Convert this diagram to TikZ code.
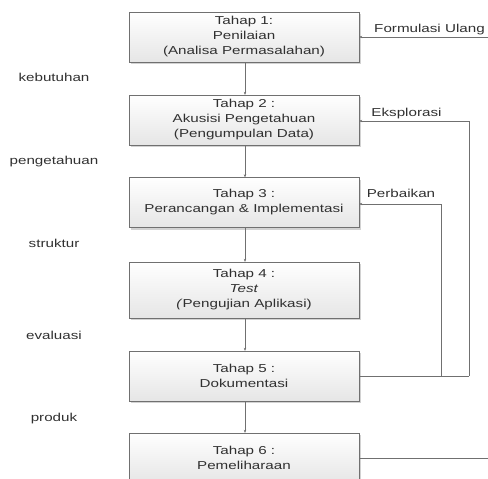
\documentclass[tikz,border=0pt]{standalone}
\usepackage{fontspec}
\setmainfont{Liberation Sans}[FakeStretch=1.32]
\usepackage{tikz}
\usetikzlibrary{arrows.meta, shadows}

\definecolor{linegray}{HTML}{707070}
\definecolor{textgray}{HTML}{303030}

\begin{document}
\begin{tikzpicture}[x=1pt,y=-1pt,
		tahap/.style={draw=linegray, top color=white, bottom color=gray!20,
			minimum width=230pt, minimum height=50pt, inner sep=0pt, align=center,
			drop shadow={shadow xshift=2pt, shadow yshift=-2pt, fill=gray!35, opacity=1}},
		alur/.style={draw=linegray, -{Stealth[length=3pt,width=2.5pt]}},
		garis/.style={draw=linegray},
		ket/.style={inner sep=0pt, anchor=base}]
	\useasboundingbox (0,0) rectangle (488,479);
	\clip (0,0) rectangle (488,479);
	\fontsize{11.5}{15}\selectfont\color{textgray}

	\node[tahap] (t1) at (244,37) {Tahap 1:\\Penilaian\\(Analisa Permasalahan)};
	\node[tahap] (t2) at (244,120) {Tahap 2 :\\Akusisi Pengetahuan\\(Pengumpulan Data)};
	\node[tahap] (t3) at (244,202.5) {Tahap 3 :\\Perancangan \& Implementasi};
	\node[tahap, minimum height=56pt] (t4) at (244,290) {Tahap 4 :\\\textit{Test}\\\textit{(}Pengujian Aplikasi)};
	\node[tahap] (t5) at (244,376) {Tahap 5 :\\Dokumentasi};
	\node[tahap] (t6) at (244,458) {Tahap 6 :\\Pemeliharaan};

	\foreach \a/\b in {t1/t2, t2/t3, t3/t4, t4/t5, t5/t6}
		\draw[alur] ([xshift=1pt]\a.south) -- ([xshift=1pt]\b.north);

	\node[ket] (kebutuhan) at (54,81) {kebutuhan};
	\node[ket] (pengetahuan) at (54,164) {pengetahuan};
	\node[ket] (struktur) at (54,247) {struktur};
	\node[ket] (evaluasi) at (54,339) {evaluasi};
	\node[ket] (produk) at (54,421) {produk};

	% umpan balik
	\coordinate (fu) at (488,37);
	\coordinate (ek) at (469,376);
	\coordinate (pb) at (441,376);
	\coordinate (pm) at (488,458);

	\draw[alur] (fu) -- (t1.east);
	\node[ket] (formulasi) at (429.5,32) {Formulasi Ulang};

	\draw[garis] (t5.east) -- (ek);
	\draw[alur] (ek) |- ([yshift=-1pt]t2.east);
	\node[ket] (eksplorasi) at (406.5,116) {Eksplorasi};

	\draw[alur] (pb) |- ([yshift=-1.5pt]t3.east);
	\node[ket] (perbaikan) at (401,197) {Perbaikan};

	\draw[garis] (t6.east) -- (pm);
\end{tikzpicture}
\end{document}
